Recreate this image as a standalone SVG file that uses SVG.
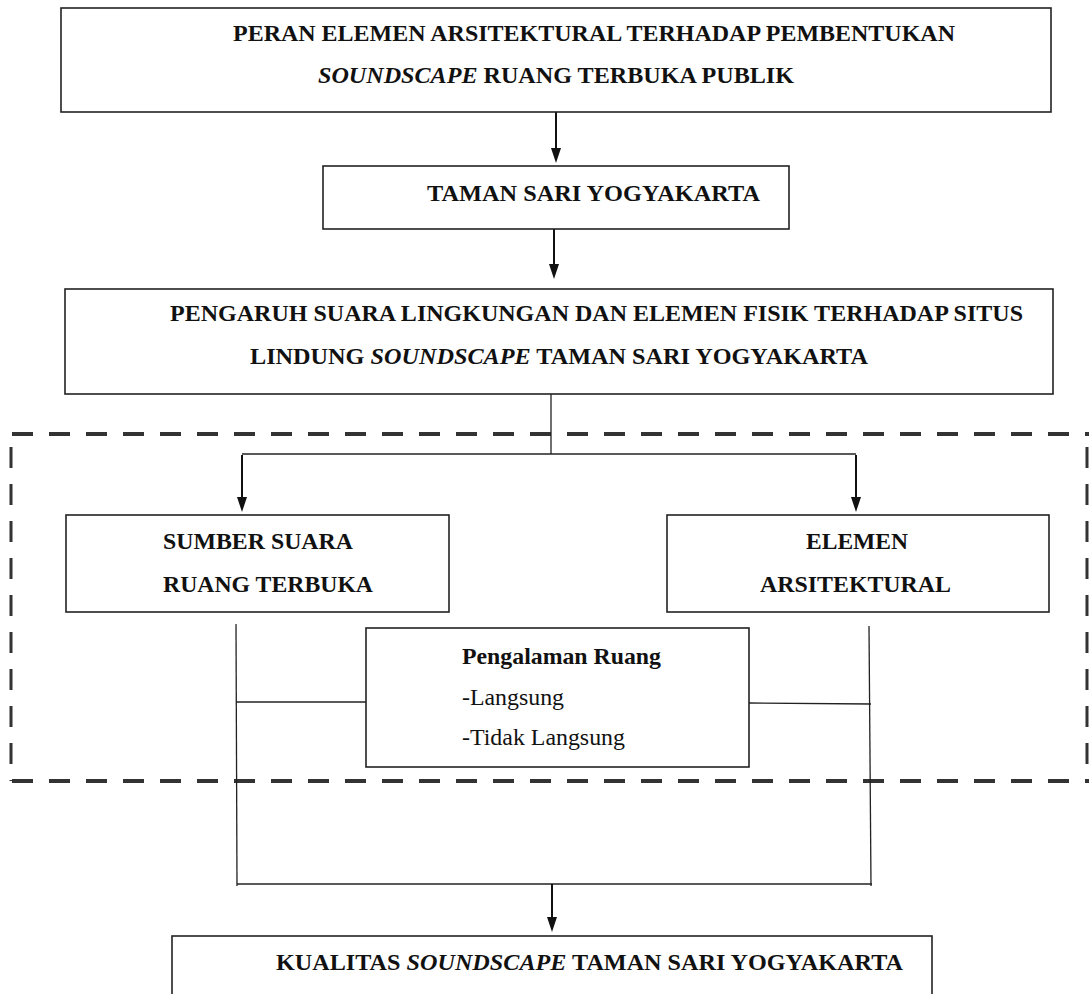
<svg xmlns="http://www.w3.org/2000/svg" width="1089" height="994" viewBox="0 0 1089 994">
<style>
.box{fill:#fff;stroke:#222;stroke-width:1.6}
.t{font-family:"Liberation Serif","Times New Roman",serif;font-weight:bold;font-size:23px;fill:#111}
.n{font-family:"Liberation Serif","Times New Roman",serif;font-size:23px;fill:#111}
.i{font-style:italic}
.ln{stroke:#222;stroke-width:1.3;fill:none}
.ar{stroke:#111;stroke-width:2;fill:none}
.dash{fill:none;stroke:#333;stroke-width:4;stroke-dasharray:21 16}
</style>
<rect width="1089" height="994" fill="#fff"/>
<g id="dashed-frame">
<path class="dash" d="M12,434 L1089,434"/>
<path class="dash" d="M12,781 L1089,781"/>
<path class="dash" d="M11,447 L11,781" style="stroke-width:3"/>
<path class="dash" d="M1087,447 L1087,781" style="stroke-width:3"/>
</g>
<g id="connectors">
<line class="ar" x1="556" y1="112" x2="556" y2="150"/>
<path d="M551,148 L561,148 L556,163 Z" fill="#111"/>
<line class="ar" x1="554" y1="229" x2="554" y2="266"/>
<path d="M549,264 L559,264 L554,279 Z" fill="#111"/>
<line class="ln" x1="551" y1="394" x2="551" y2="454"/>
<line class="ln" x1="242" y1="454" x2="856" y2="454"/>
<line class="ar" x1="242" y1="455" x2="242" y2="499"/>
<path d="M237,497 L247,497 L242,512 Z" fill="#111"/>
<line class="ar" x1="856" y1="455" x2="856" y2="499"/>
<path d="M851,497 L861,497 L856,512 Z" fill="#111"/>
<line class="ln" x1="236" y1="624" x2="237" y2="886"/>
<line class="ln" x1="236" y1="702" x2="366" y2="702"/>
<line class="ln" x1="869" y1="626" x2="871" y2="886"/>
<line class="ln" x1="749" y1="703" x2="871" y2="704"/>
<line class="ln" x1="237" y1="884" x2="872" y2="884"/>
<line class="ar" x1="552" y1="884" x2="552" y2="919"/>
<path d="M547,917 L557,917 L552,932 Z" fill="#111"/>
</g>
<g id="node-peran">
<rect class="box" x="61" y="8" width="990" height="104"/>
<text class="t" x="233" y="41" textLength="722" lengthAdjust="spacingAndGlyphs">PERAN ELEMEN ARSITEKTURAL TERHADAP PEMBENTUKAN</text>
<text class="t" x="318" y="83" textLength="476" lengthAdjust="spacingAndGlyphs"><tspan class="i">SOUNDSCAPE</tspan> RUANG TERBUKA PUBLIK</text>
</g>
<g id="node-taman">
<rect class="box" x="323" y="166" width="466" height="63"/>
<text class="t" x="427" y="201" textLength="333" lengthAdjust="spacingAndGlyphs">TAMAN SARI YOGYAKARTA</text>
</g>
<g id="node-pengaruh">
<rect class="box" x="65" y="289" width="988" height="105"/>
<text class="t" x="170" y="321" textLength="853" lengthAdjust="spacingAndGlyphs">PENGARUH SUARA LINGKUNGAN DAN ELEMEN FISIK TERHADAP SITUS</text>
<text class="t" x="250" y="364" textLength="618" lengthAdjust="spacingAndGlyphs">LINDUNG <tspan class="i">SOUNDSCAPE</tspan> TAMAN SARI YOGYAKARTA</text>
</g>
<g id="node-sumber">
<rect class="box" x="66" y="515" width="383" height="97"/>
<text class="t" x="163" y="549" textLength="190" lengthAdjust="spacingAndGlyphs">SUMBER SUARA</text>
<text class="t" x="163" y="592" textLength="210" lengthAdjust="spacingAndGlyphs">RUANG TERBUKA</text>
</g>
<g id="node-elemen">
<rect class="box" x="667" y="515" width="382" height="97"/>
<text class="t" x="806" y="549" textLength="102" lengthAdjust="spacingAndGlyphs">ELEMEN</text>
<text class="t" x="760" y="592" textLength="191" lengthAdjust="spacingAndGlyphs">ARSITEKTURAL</text>
</g>
<g id="node-pengalaman">
<rect class="box" x="366" y="628" width="383" height="139"/>
<text class="t" x="462" y="664" textLength="199" lengthAdjust="spacingAndGlyphs">Pengalaman Ruang</text>
<text class="n" x="462" y="705" textLength="102" lengthAdjust="spacingAndGlyphs">-Langsung</text>
<text class="n" x="462" y="745" textLength="163" lengthAdjust="spacingAndGlyphs">-Tidak Langsung</text>
</g>
<g id="node-kualitas">
<rect class="box" x="172" y="936" width="760" height="70"/>
<text class="t" x="276" y="970" textLength="627" lengthAdjust="spacingAndGlyphs">KUALITAS <tspan class="i">SOUNDSCAPE</tspan> TAMAN SARI YOGYAKARTA</text>
</g>
</svg>
